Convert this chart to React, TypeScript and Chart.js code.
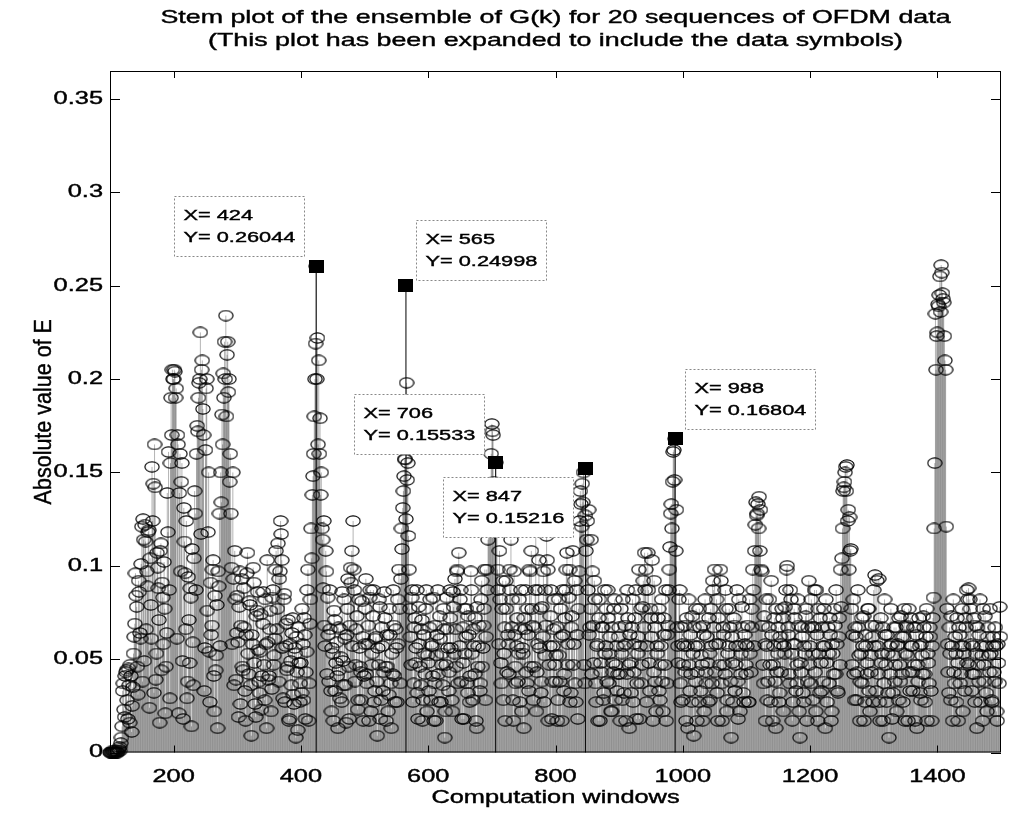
import React, { useEffect, useRef } from "react";
import { Chart, registerables } from "chart.js";

Chart.register(...registerables);

// |G(k)| ensemble, grouped by hundreds of computation windows.
// gNNN: even windows (NNN, NNN+2, ...), hNNN: odd windows (NNN+1, NNN+3, ...)
const g100 = [0,0,.001,0,0,.001,0,.002,.001,.008,.033,.023,.041,.044,.018,.036,.047,.011,.035,.062,.096,.078,.031,.086,.061,.121,.125,.049,.113,.097,.118,.024,.079,.153,.144,.165,.039,.107,.088,.016,.112,.091,.058,.077,.046,.139,.161,.029,.19,.205];
const h100 = [0,0,0,.001,0,0,.001,.003,.005,.014,.037,.019,.043,.028,.045,.016,.041,.025,.053,.069,.084,.046,.092,.064,.101,.038,.114,.122,.066,.089,.119,.104,.061,.124,.032,.142,.053,.099,.071,.108,.044,.083,.102,.021,.064,.118,.087,.155,.17,.2];
const g200 = [.2,.204,.195,.17,.021,.16,.145,.049,.131,.096,.124,.038,.071,.088,.014,.059,.104,.128,.16,.172,.198,.225,.205,.184,.033,.162,.2,.118,.054,.091,.068,.103,.022,.044,.079,.097,.128,.15,.181,.203,.22,.234,.213,.193,.145,.128,.058,.093,.108,.039];
const h200 = [.205,.19,.061,.165,.139,.097,.155,.018,.113,.066,.029,.094,.048,.083,.109,.036,.14,.087,.175,.19,.2,.117,.21,.17,.056,.195,.076,.15,.027,.063,.098,.041,.084,.052,.013,.089,.057,.134,.165,.19,.2,.18,.22,.2,.16,.099,.15,.036,.082,.064];
const g300 = [.084,.019,.097,.068,.046,.088,.033,.063,.107,.042,.079,.009,.058,.091,.026,.073,.086,.038,.054,.023,.069,.047,.082,.013,.059,.041,.076,.034,.087,.052,.098,.066,.112,.093,.124,.103,.029,.085,.057,.044,.071,.018,.049,.064,.031,.056,.008,.043,.067,.027];
const h300 = [.059,.078,.026,.093,.044,.067,.017,.096,.053,.081,.036,.063,.099,.048,.019,.076,.055,.032,.074,.041,.086,.028,.058,.103,.039,.066,.022,.083,.047,.061,.108,.077,.038,.097,.117,.056,.082,.027,.069,.046,.017,.058,.036,.072,.026,.053,.062,.012,.048,.037];
const g400 = [.048,.077,.028,.063,.043,.087,.017,.069,.12,.138,.16,.2,.26044,.222,.21,.179,.15,.114,.124,.057,.097,.083,.038,.066,.022,.053,.076,.033,.059,.013,.044,.066,.027,.049,.082,.036,.063,.093,.018,.099,.108,.124,.087,.047,.073,.028,.056,.043,.081,.017];
const h400 = [.032,.058,.072,.018,.054,.098,.037,.082,.104,.148,.18,.219,.2,.165,.16,.138,.12,.088,.068,.108,.042,.063,.087,.033,.056,.017,.071,.048,.041,.067,.029,.051,.086,.036,.061,.016,.077,.046,.068,.091,.057,.098,.038,.066,.023,.082,.046,.028,.062,.041];
const g500 = [.058,.093,.037,.068,.083,.022,.053,.087,.033,.062,.009,.047,.078,.028,.057,.043,.072,.017,.046,.031,.063,.013,.042,.068,.027,.056,.082,.098,.037,.12,.131,.148,.157,.198,.155,.098,.062,.083,.027,.067,.048,.087,.018,.058,.036,.071,.028,.053,.077,.022];
const h500 = [.077,.042,.058,.017,.087,.047,.073,.027,.061,.038,.056,.082,.018,.067,.033,.086,.046,.063,.022,.077,.037,.053,.087,.041,.066,.027,.058,.077,.093,.109,.14,.157,.125,.146,.116,.077,.047,.087,.037,.072,.056,.032,.078,.046,.066,.017,.063,.042,.087,.052];
const g600 = [.048,.067,.028,.057,.083,.037,.017,.063,.042,.073,.027,.053,.077,.008,.047,.066,.033,.087,.056,.022,.078,.093,.046,.098,.107,.082,.038,.067,.018,.053,.077,.032,.063,.041,.087,.028,.057,.072,.013,.046,.068,.037,.092,.056,.077,.028,.098,.114,.125,.14];
const h600 = [.033,.082,.058,.041,.017,.068,.052,.087,.027,.061,.047,.036,.066,.022,.083,.056,.043,.072,.028,.086,.053,.066,.097,.037,.057,.087,.018,.048,.077,.062,.037,.073,.027,.097,.053,.066,.042,.017,.078,.057,.033,.082,.046,.068,.098,.062,.087,.13,.12,.16];
const g700 = [.176,.17,.135,.15533,.12,.087,.108,.048,.077,.028,.067,.092,.043,.058,.098,.114,.082,.017,.063,.037,.072,.053,.027,.087,.056,.013,.066,.043,.077,.033,.097,.108,.068,.046,.087,.022,.058,.103,.077,.038,.062,.027,.087,.116,.098,.047,.073,.018,.057,.082];
const h700 = [.172,.145,.14,.125,.098,.058,.082,.037,.092,.053,.017,.077,.063,.042,.087,.067,.028,.097,.046,.057,.038,.082,.066,.022,.053,.072,.087,.037,.063,.098,.046,.077,.028,.067,.12,.043,.087,.056,.032,.078,.097,.052,.068,.103,.017,.057,.087,.038,.066,.047];
const g800 = [.038,.067,.028,.052,.077,.017,.063,.042,.087,.107,.058,.098,.032,.073,.047,.092,.027,.063,.077,.124,.133,.144,.15,.037,.108,.124,.13,.067,.114,.097,.048,.082,.027,.058,.072,.017,.043,.067,.032,.053,.077,.087,.037,.062,.022,.048,.077,.028,.057,.042];
const h800 = [.052,.017,.082,.038,.062,.087,.033,.072,.098,.047,.083,.027,.067,.108,.058,.037,.087,.018,.097,.14,.121,.134,.047,.127,.114,.087,.063,.077,.042,.068,.092,.037,.057,.017,.082,.048,.067,.028,.087,.057,.038,.072,.053,.022,.067,.043,.082,.047,.033,.062];
const g900 = [.067,.017,.053,.082,.032,.058,.042,.072,.013,.048,.067,.027,.058,.087,.037,.062,.018,.077,.047,.092,.107,.098,.057,.087,.033,.072,.103,.043,.067,.022,.053,.077,.028,.057,.038,.072,.047,.017,.063,.087,.11,.133,.145,.162,.16804,.13,.057,.082,.037,.067];
const h900 = [.042,.077,.028,.057,.068,.017,.087,.047,.063,.032,.082,.043,.072,.018,.053,.098,.057,.037,.078,.067,.087,.027,.107,.048,.077,.062,.017,.092,.038,.057,.072,.033,.047,.082,.022,.063,.087,.037,.068,.098,.128,.12,.161,.146,.108,.067,.048,.087,.027,.058];
const g1000 = [.028,.057,.043,.072,.013,.047,.063,.027,.053,.067,.038,.017,.057,.077,.033,.047,.068,.022,.043,.062,.027,.053,.077,.037,.087,.098,.058,.032,.072,.047,.092,.017,.063,.042,.077,.028,.057,.067,.008,.048,.072,.033,.057,.038,.082,.022,.053,.067,.027,.058];
const h1000 = [.047,.068,.017,.057,.082,.033,.042,.073,.009,.057,.077,.043,.027,.067,.052,.017,.063,.082,.037,.048,.072,.028,.057,.092,.067,.043,.082,.017,.058,.098,.037,.067,.047,.087,.022,.053,.077,.038,.062,.027,.068,.047,.087,.018,.057,.042,.078,.032,.063,.047];
const g1100 = [.042,.068,.027,.053,.077,.098,.057,.122,.127,.133,.137,.13,.097,.047,.073,.017,.057,.038,.082,.027,.063,.047,.072,.013,.043,.067,.032,.058,.077,.022,.053,.087,.1,.063,.037,.082,.017,.058,.072,.033,.047,.068,.008,.043,.062,.027,.053,.077,.038,.092];
const h1100 = [.057,.027,.082,.043,.067,.087,.108,.134,.128,.12,.108,.098,.068,.037,.058,.082,.028,.067,.047,.092,.017,.057,.038,.077,.053,.027,.062,.043,.072,.057,.078,.098,.067,.042,.087,.053,.027,.077,.058,.037,.082,.022,.048,.067,.032,.057,.073,.017,.067,.047];
const g1200 = [.057,.082,.028,.067,.043,.087,.017,.053,.072,.033,.057,.077,.013,.048,.067,.037,.063,.022,.053,.077,.042,.058,.032,.072,.098,.104,.14,.145,.153,.154,.13,.126,.109,.047,.082,.028,.062,.043,.067,.017,.053,.037,.073,.027,.057,.048,.077,.022,.043,.062];
const h1200 = [.037,.067,.053,.087,.022,.063,.077,.032,.048,.067,.038,.057,.082,.027,.053,.072,.017,.058,.042,.068,.087,.033,.062,.047,.078,.12,.142,.15,.14,.124,.098,.108,.077,.063,.042,.067,.028,.087,.052,.038,.072,.057,.017,.063,.042,.077,.033,.052,.068,.027];
const g1300 = [.087,.095,.033,.057,.093,.017,.048,.067,.037,.063,.027,.053,.008,.042,.058,.032,.067,.047,.022,.058,.072,.038,.062,.027,.077,.053,.067,.017,.043,.072,.057,.033,.047,.067,.013,.038,.057,.028,.052,.073,.042,.062,.017,.048,.067,.033,.057,.083,.155,.205];
const h1300 = [.057,.068,.092,.042,.027,.072,.053,.017,.082,.047,.063,.032,.057,.077,.018,.052,.038,.067,.057,.028,.047,.073,.042,.062,.017,.068,.052,.077,.033,.057,.043,.067,.017,.063,.047,.072,.032,.058,.042,.067,.027,.077,.053,.037,.062,.017,.072,.12,.235,.223];
const g1400 = [.225,.239,.255,.261,.246,.241,.21,.121,.058,.032,.053,.073,.017,.043,.062,.027,.048,.067,.037,.057,.022,.053,.072,.087,.082,.047,.077,.033,.057,.042,.068,.013,.047,.063,.027,.052,.077,.038,.057,.022,.067,.043,.053,.027,.062,.038,.057,.017,.048,.078];
const h1400 = [.24,.245,.236,.257,.243,.223,.205,.077,.043,.067,.028,.057,.082,.037,.053,.072,.017,.063,.042,.077,.057,.033,.067,.048,.088,.082,.058,.042,.072,.027,.053,.067,.038,.082,.057,.017,.047,.073,.032,.062,.052,.077,.028,.057,.043,.067,.022,.058,.037,.062];

const blockStarts = [100, 200, 300, 400, 500, 600, 700, 800, 900, 1000, 1100, 1200, 1300, 1400];
const evenBlocks = [g100, g200, g300, g400, g500, g600, g700, g800, g900, g1000, g1100, g1200, g1300, g1400];
const oddBlocks = [h100, h200, h300, h400, h500, h600, h700, h800, h900, h1000, h1100, h1200, h1300, h1400];
const windowStep = 2;

// data-cursor picks
const cursorX = [424, 565, 706, 847, 988];
const cursorY = [0.26044, 0.24998, 0.15533, 0.15216, 0.16804];

const xTicks = [200, 400, 600, 800, 1000, 1200, 1400];
const yTicks = [0, 0.05, 0.1, 0.15, 0.2, 0.25, 0.3, 0.35];

const titleLines = [
  "Stem plot of the ensemble of G(k) for 20 sequences of OFDM data",
  "(This plot has been expanded to include the data symbols)",
];
const xLabel = "Computation windows";
const yLabel = "Absolute value of E";

// datatip box placement relative to its point (px): dx, dy of the box corner
const tipOffsets = [[-142, -70], [10, -66], [-142, -68], [-142, 9], [10, -70]];

const FONT = '"Liberation Sans", Arial, sans-serif';
const STRETCH = 1.45;

function stretchedText(ctx, text, x, y, size, align, sx = STRETCH, bold = 0.4) {
  ctx.save();
  ctx.translate(x, y);
  ctx.scale(sx, 1);
  ctx.font = `${size}px ${FONT}`;
  ctx.textAlign = align;
  ctx.textBaseline = "middle";
  ctx.fillStyle = "#000";
  ctx.fillText(text, 0, 0);
  if (bold > 0) {
    ctx.strokeStyle = "#000";
    ctx.lineWidth = bold;
    ctx.strokeText(text, 0, 0);
  }
  ctx.restore();
}

function makeEllipse(w, h) {
  const c = document.createElement("canvas");
  c.width = w;
  c.height = h;
  const g = c.getContext("2d");
  g.strokeStyle = "#000";
  g.lineWidth = 1.15;
  g.beginPath();
  g.ellipse(w / 2, h / 2, w / 2 - 0.9, h / 2 - 0.9, 0, 0, Math.PI * 2);
  g.stroke();
  return c;
}

function makeSquare(w, h) {
  const c = document.createElement("canvas");
  c.width = w;
  c.height = h;
  const g = c.getContext("2d");
  g.fillStyle = "#000";
  g.fillRect(0, 0, w, h);
  return c;
}

const stemPlugin = {
  id: "stems",
  beforeDatasetsDraw(chart) {
    const { ctx, scales } = chart;
    const y0 = scales.y.getPixelForValue(0);
    ctx.save();
    chart.data.datasets.forEach((ds, i) => {
      const meta = chart.getDatasetMeta(i);
      ctx.strokeStyle = ds.stemColor;
      ctx.lineWidth = ds.stemWidth;
      ctx.beginPath();
      meta.data.forEach((el) => {
        ctx.moveTo(el.x, el.y);
        ctx.lineTo(el.x, y0);
      });
      ctx.stroke();
    });
    ctx.restore();
  },
};

const framePlugin = {
  id: "frame",
  afterDatasetsDraw(chart) {
    const { ctx, chartArea: a, scales } = chart;
    ctx.save();
    ctx.strokeStyle = "#000";
    ctx.lineWidth = 1;
    ctx.strokeRect(a.left + 0.5, a.top + 0.5, a.right - a.left - 1, a.bottom - a.top - 1);
    ctx.beginPath();
    xTicks.forEach((v) => {
      const px = Math.round(scales.x.getPixelForValue(v)) + 0.5;
      ctx.moveTo(px, a.bottom);
      ctx.lineTo(px, a.bottom - 7);
      ctx.moveTo(px, a.top);
      ctx.lineTo(px, a.top + 7);
    });
    yTicks.forEach((v) => {
      const py = Math.round(scales.y.getPixelForValue(v)) + 0.5;
      ctx.moveTo(a.left, py);
      ctx.lineTo(a.left + 10, py);
      ctx.moveTo(a.right, py);
      ctx.lineTo(a.right - 10, py);
    });
    ctx.stroke();
    ctx.restore();
  },
  afterDraw(chart) {
    const { ctx, chartArea: a, scales } = chart;
    xTicks.forEach((v) => {
      stretchedText(ctx, String(v), scales.x.getPixelForValue(v), a.bottom + 25, 17.5, "center");
    });
    yTicks.forEach((v) => {
      stretchedText(ctx, String(v), a.left - 7, scales.y.getPixelForValue(v), 17.5, "right");
    });
    const cx = (a.left + a.right) / 2;
    stretchedText(ctx, titleLines[0], cx, 18, 18.5, "center");
    stretchedText(ctx, titleLines[1], cx, 41, 18.5, "center");
    stretchedText(ctx, xLabel, cx, a.bottom + 46, 17.5, "center");
    // rotated y label
    ctx.save();
    ctx.translate(44, (a.top + a.bottom) / 2);
    ctx.rotate(-Math.PI / 2);
    ctx.scale(1, 1.1);
    ctx.font = `21.5px ${FONT}`;
    ctx.textAlign = "center";
    ctx.textBaseline = "middle";
    ctx.fillStyle = "#000";
    ctx.fillText(yLabel, 0, 0);
    ctx.strokeStyle = "#000";
    ctx.lineWidth = 0.4;
    ctx.strokeText(yLabel, 0, 0);
    ctx.restore();

    // datatips
    cursorX.forEach((xv, i) => {
      const px = scales.x.getPixelForValue(xv);
      const py = scales.y.getPixelForValue(cursorY[i]);
      const bx = Math.round(px + tipOffsets[i][0]) + 0.5;
      const by = Math.round(py + tipOffsets[i][1]) + 0.5;
      const bw = 130;
      const bh = 60;
      ctx.save();
      ctx.fillStyle = "#fff";
      ctx.fillRect(bx, by, bw, bh);
      ctx.strokeStyle = "#888";
      ctx.lineWidth = 1;
      ctx.setLineDash([2, 2]);
      ctx.strokeRect(bx, by, bw, bh);
      ctx.restore();
      stretchedText(ctx, `X= ${xv}`, bx + 9, by + 19, 15, "left");
      stretchedText(ctx, `Y= ${cursorY[i]}`, bx + 9, by + 41, 15, "left");
    });
  },
};

export default function App() {
  const ref = useRef(null);
  useEffect(() => {
    const points = [];
    blockStarts.forEach((start, b) => {
      evenBlocks[b].forEach((v, i) => points.push({ x: start + i * windowStep, y: v }));
      oddBlocks[b].forEach((v, i) => points.push({ x: start + 1 + i * windowStep, y: v }));
    });
    const picks = cursorX.map((x, i) => ({ x, y: cursorY[i] }));
    const chart = new Chart(ref.current, {
      type: "scatter",
      data: {
        datasets: [
          {
            data: picks,
            pointStyle: makeSquare(15, 13),
            pointRadius: 7,
            stemColor: "#000",
            stemWidth: 1,
            clip: false,
            order: 0,
          },
          {
            data: points,
            pointStyle: makeEllipse(16, 12),
            pointRadius: 7,
            stemColor: "rgba(0,0,0,0.5)",
            stemWidth: 0.6,
            clip: false,
            order: 1,
          },
        ],
      },
      options: {
        animation: false,
        responsive: false,
        devicePixelRatio: 1,
        events: [],
        layout: { padding: { top: 71, right: 4, left: 0, bottom: 0 } },
        plugins: { legend: { display: false }, tooltip: { enabled: false }, title: { display: false } },
        scales: {
          x: {
            type: "linear",
            min: 100,
            max: 1500,
            grid: { display: false },
            border: { display: false },
            ticks: { display: false },
            afterBuildTicks: (s) => { s.ticks = xTicks.map((v) => ({ value: v })); },
            afterFit: (s) => { s.height = 61.5; },
          },
          y: {
            type: "linear",
            min: 0,
            max: 0.365,
            grid: { display: false },
            border: { display: false },
            ticks: { display: false },
            afterBuildTicks: (s) => { s.ticks = yTicks.map((v) => ({ value: v })); },
            afterFit: (s) => { s.width = 110; },
          },
        },
      },
      plugins: [stemPlugin, framePlugin],
    });
    return () => chart.destroy();
  }, []);
  return (
    <div style={{ position: "fixed", left: 0, top: 0, width: 1009, height: 814, background: "#fff" }}>
      <canvas ref={ref} width={1009} height={814} />
    </div>
  );
}
